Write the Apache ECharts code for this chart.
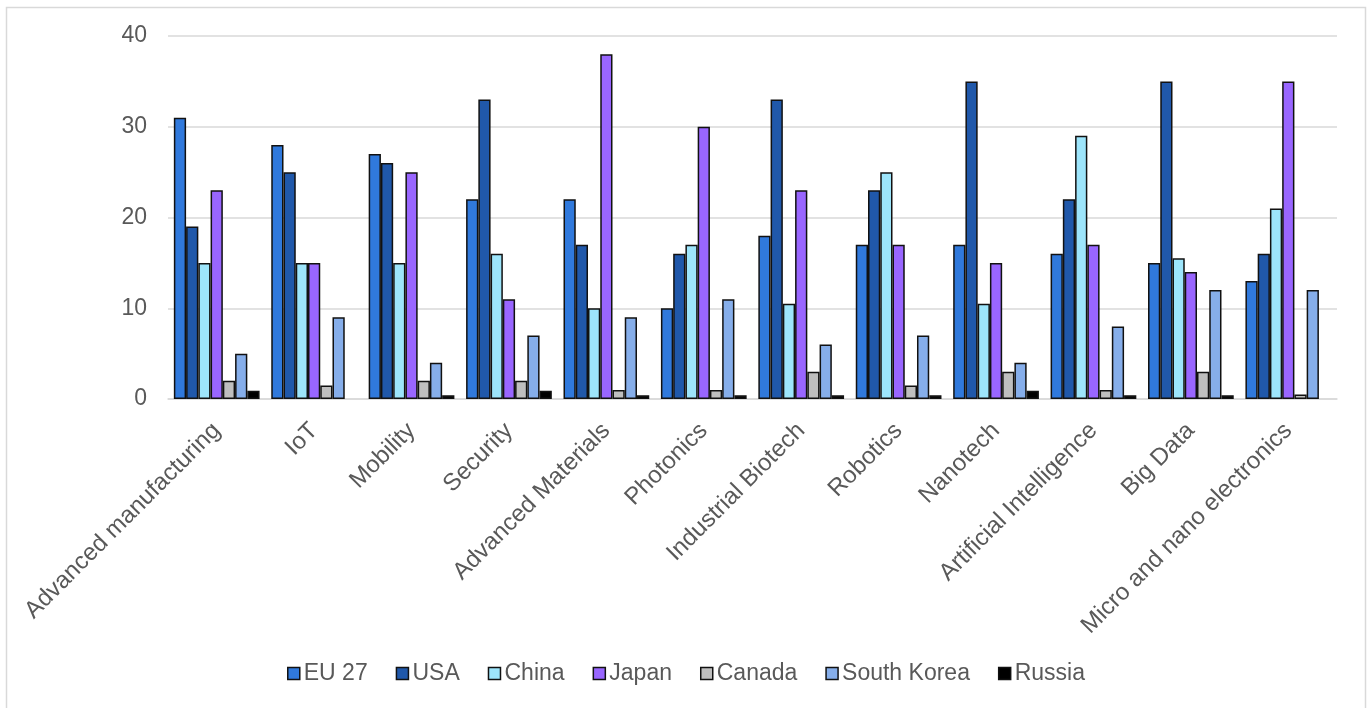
<!DOCTYPE html>
<html>
<head>
<meta charset="utf-8">
<script src="https://cdn.jsdelivr.net/npm/echarts@6/dist/echarts.min.js"></script>
<style>
  html, body { margin: 0; padding: 0; background: #fff; }
  #chart { width: 1372px; height: 708px; }
</style>
</head>
<body>
<div id="chart"></div>
<script>
// Technology fields on the category axis
const categories = [
  'Advanced manufacturing', 'IoT', 'Mobility', 'Security', 'Advanced Materials',
  'Photonics', 'Industrial Biotech', 'Robotics', 'Nanotech',
  'Artificial Intelligence', 'Big Data', 'Micro and nano electronics'
];

// Values per region, one entry per category (null = no bar)
const eu27       = [31, 28, 27, 22, 22, 10, 18, 17, 17, 16, 15, 13];
const usa        = [19, 25, 26, 33, 17, 16, 33, 23, 35, 22, 35, 16];
const china      = [15, 15, 15, 16, 10, 17, 10.5, 25, 10.5, 29, 15.5, 21];
const japan      = [23, 15, 25, 11, 38, 30, 23, 17, 15, 17, 14, 35];
const canada     = [2, 1.5, 2, 2, 1, 1, 3, 1.5, 3, 1, 3, 0.5];
const southKorea = [5, 9, 4, 7, 9, 11, 6, 7, 4, 8, 12, 12];
const russia     = [0.9, null, 0.4, 0.9, 0.4, 0.4, 0.4, 0.4, 0.9, 0.4, 0.4, null];

const yTicks = { min: 0, max: 40, interval: 10 };

const seriesDefs = [
  { name: 'EU 27', data: eu27, color: '#3079dc' },
  { name: 'USA', data: usa, color: '#2058aa' },
  { name: 'China', data: china, color: '#9de5fb' },
  { name: 'Japan', data: japan, color: '#9966ff' },
  { name: 'Canada', data: canada, color: '#bfbfbf' },
  { name: 'South Korea', data: southKorea, color: '#86aeea' },
  { name: 'Russia', data: russia, color: '#000000' }
];

const font = '"Liberation Sans", Arial, sans-serif';
const chart = echarts.init(document.getElementById('chart'), null, { renderer: 'canvas' });

chart.setOption({
  animation: false,
  backgroundColor: '#ffffff',
  graphic: [{
    type: 'rect',
    shape: { x: 6.5, y: 7.5, width: 1359, height: 705 },
    style: { fill: 'none', stroke: '#d9d9d9', lineWidth: 1.5 },
    silent: true
  }],
  grid: { left: 168, right: 35, top: 36, bottom: 309, containLabel: false },
  legend: {
    bottom: 18,
    left: 'center',
    itemWidth: 12,
    itemHeight: 12,
    itemGap: 28,
    icon: 'rect',
    textStyle: { fontFamily: font, fontSize: 23, color: '#595959', padding: [0, 0, 0, -1] },
    data: seriesDefs.map(s => ({
      name: s.name,
      itemStyle: { color: s.color, borderColor: '#111111', borderWidth: 1.5 }
    }))
  },
  xAxis: {
    type: 'category',
    data: categories,
    axisLine: { lineStyle: { color: '#d9d9d9', width: 1.5 } },
    axisTick: { show: false },
    axisLabel: {
      rotate: 45,
      interval: 0,
      margin: 28,
      fontFamily: font,
      fontSize: 24,
      color: '#595959'
    }
  },
  yAxis: {
    type: 'value',
    min: yTicks.min,
    max: yTicks.max,
    interval: yTicks.interval,
    axisLine: { show: false },
    axisTick: { show: false },
    splitLine: { lineStyle: { color: '#d9d9d9', width: 1.5 } },
    axisLabel: { margin: 21, fontFamily: font, fontSize: 23, color: '#595959' }
  },
  series: seriesDefs.map(s => ({
    name: s.name,
    type: 'bar',
    data: s.data,
    barGap: '0%',
    barCategoryGap: '12%',
    itemStyle: { color: s.color, borderColor: '#111111', borderWidth: 1.5 }
  }))
});
</script>
</body>
</html>
